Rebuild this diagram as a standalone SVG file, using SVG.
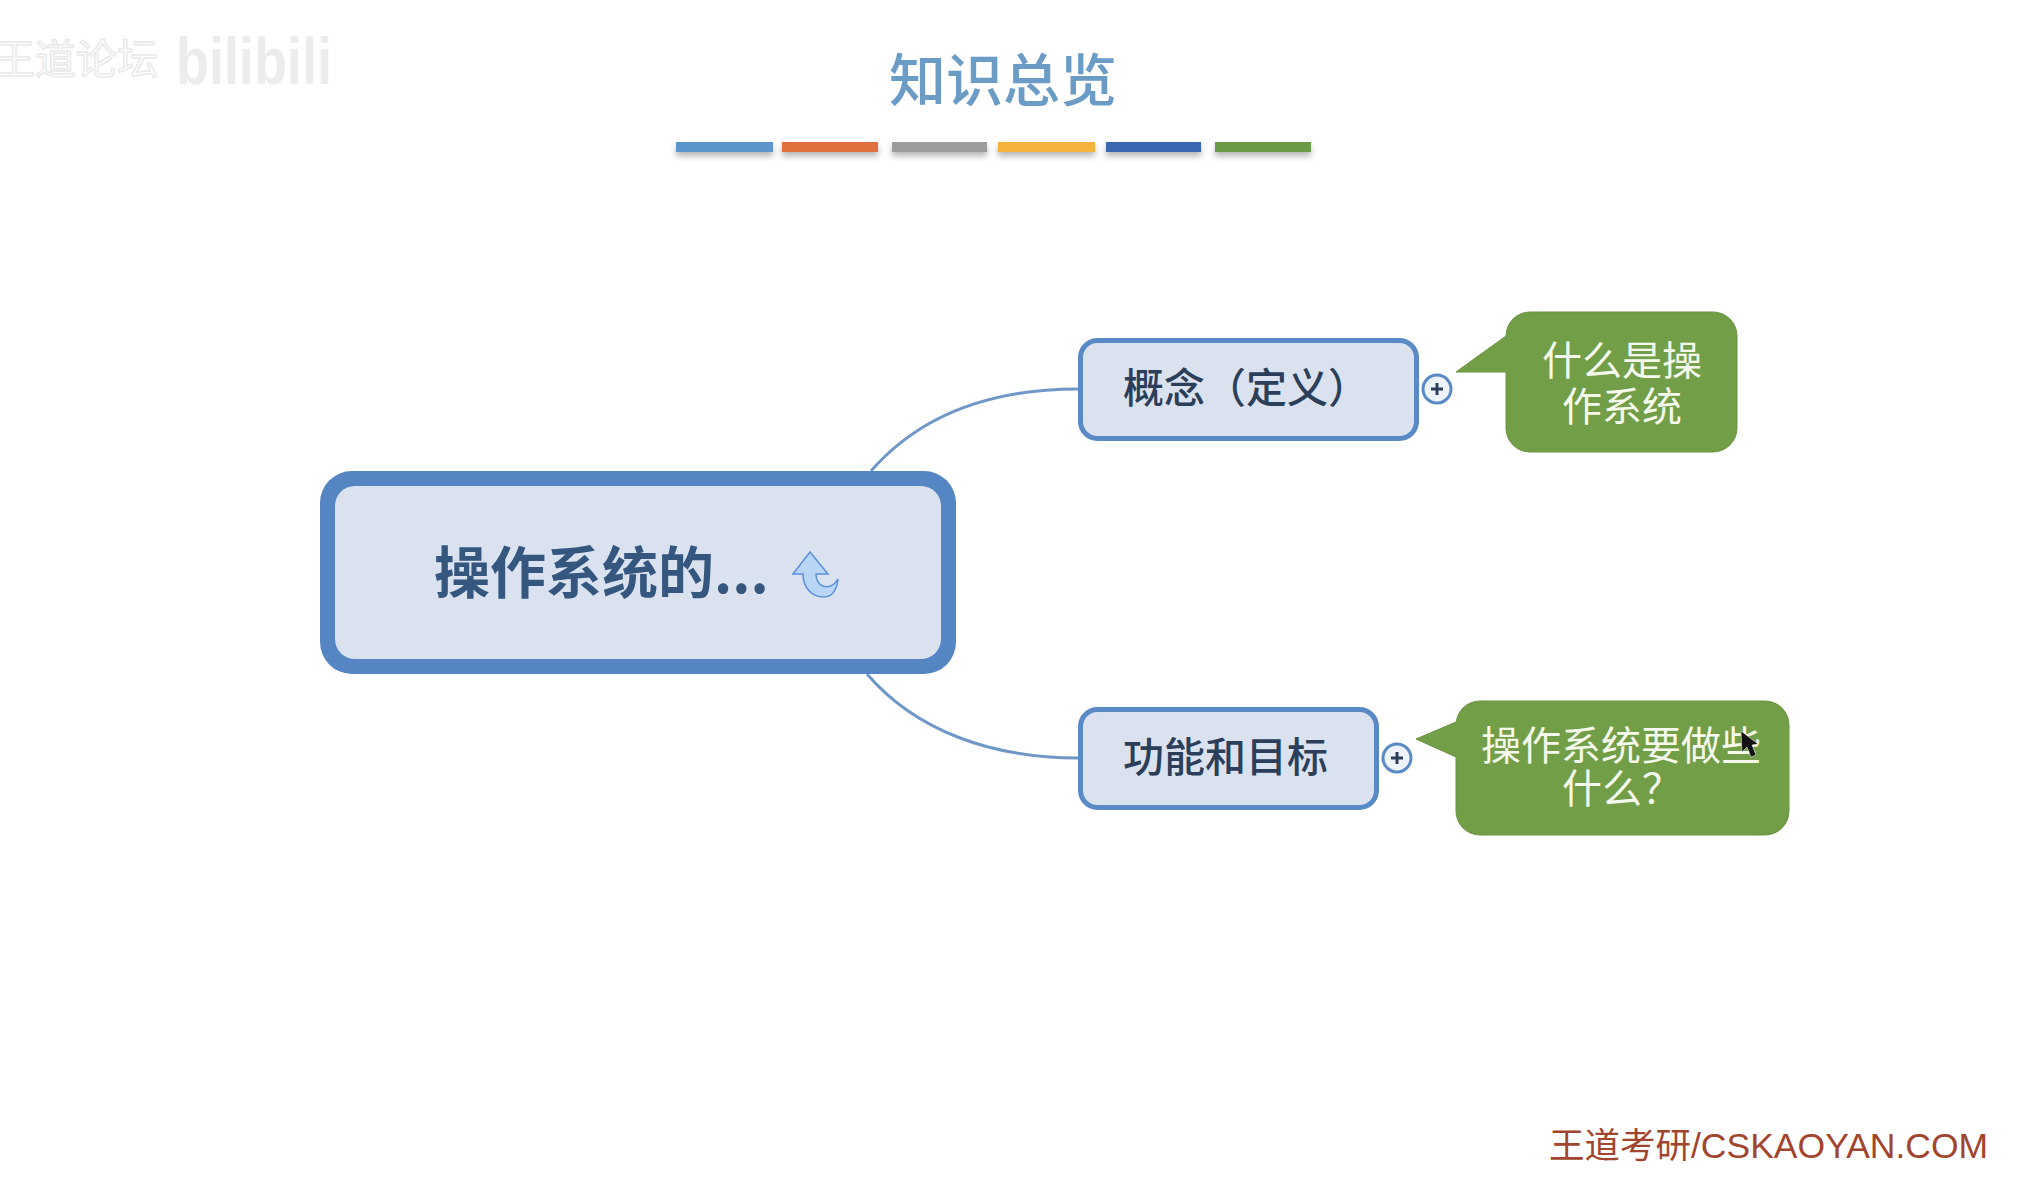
<svg xmlns="http://www.w3.org/2000/svg" width="2039" height="1177" viewBox="0 0 2039 1177">
<defs>
<filter id="barShadow" x="-10%" y="-60%" width="120%" height="260%"><feDropShadow dx="0" dy="4" stdDeviation="3" flood-color="#000" flood-opacity="0.3"/></filter>
</defs>
<style>
text{font-family:"Noto Sans CJK SC","Liberation Sans",sans-serif}
.t{text-anchor:middle}
.n{font-size:41px;fill:#2c3f5a;font-weight:500}
.c{font-size:40px;fill:#f4f9ec;text-anchor:middle}
.box{fill:#dae2ef;stroke:#5a8ac6;stroke-width:5}
.call{fill:#729e47;stroke:#6a9340;stroke-width:1}
.link{fill:none;stroke:#6f97c8;stroke-width:3}
.plus circle{fill:#eef3fa;stroke:#5a8ac6;stroke-width:3}
.plus path{stroke:#2c3f5a;stroke-width:3;fill:none}
</style>
<rect width="2039" height="1177" fill="#fff"/>

<g id="watermark">
<text x="-6" y="74" font-size="41" fill="#fff" stroke="#e9e9e9" stroke-width="1.500">王道论坛</text>
<text x="176" y="84" font-size="66" font-weight="700" fill="#ececec" textLength="156" lengthAdjust="spacingAndGlyphs" style="font-family:'Liberation Sans',sans-serif">bilibili</text>
</g>

<g id="title">
<text class="t" x="1003" y="101" font-size="57" font-weight="500" fill="#6b9cc6">知识总览</text>
<g filter="url(#barShadow)">
<rect x="676" y="142" width="97" height="10" fill="#5b94cc"/>
<rect x="782" y="142" width="96" height="10" fill="#e0703c"/>
<rect x="892" y="142" width="95" height="10" fill="#9c9c9c"/>
<rect x="998" y="142" width="97" height="10" fill="#f3b33e"/>
<rect x="1106" y="142" width="95" height="10" fill="#3a66b0"/>
<rect x="1215" y="142" width="96" height="10" fill="#6a9a45"/>
</g>
</g>

<g id="connectors">
<path class="link" d="M871 471C920 415 990 389 1078 389"/>
<path class="link" d="M867 674C915 730 990 758 1078 758"/>
</g>

<g id="root">
<rect x="320" y="471" width="636" height="203" rx="32" fill="#5585c2"/>
<rect x="335" y="486" width="606" height="173" rx="20" fill="#dae2ef"/>
<text x="434" y="593" font-size="56" font-weight="700" fill="#34567f">操作系统的...</text>
<path d="M810 552L793 574H803C803 588 812 597 824 597C832 597 837 590 838 579C834 586 828 588 823 586C818 584 816 580 816 574H828Z" fill="#b9d6f6" stroke="#5a8fdc" stroke-width="1.500"/>
</g>

<g id="node-concept">
<rect class="box" x="1080.500" y="340.500" width="336" height="98" rx="17"/>
<text class="n" x="1123" y="403">概念（定义）</text>
<g class="plus"><circle cx="1437" cy="389" r="14"/><path d="M1431 389H1443M1437 383V395"/></g>
</g>

<g id="node-function">
<rect class="box" x="1080.500" y="709.500" width="296" height="98" rx="17"/>
<text class="n" x="1123" y="772">功能和目标</text>
<g class="plus"><circle cx="1397" cy="758" r="14"/><path d="M1391 758H1403M1397 752V764"/></g>
</g>

<g id="note-concept">
<path class="call" d="M1530 312H1713A24 24 0 0 1 1737 336V428A24 24 0 0 1 1713 452H1530A24 24 0 0 1 1506 428V372H1456L1506 336A24 24 0 0 1 1530 312Z"/>
<text class="c"><tspan x="1622" y="375">什么是操</tspan><tspan x="1622" y="421">作系统</tspan></text>
</g>

<g id="note-function">
<path class="call" d="M1480 701H1765A24 24 0 0 1 1789 725V811A24 24 0 0 1 1765 835H1480A24 24 0 0 1 1456 811V757L1416 739L1456 722V725A24 24 0 0 1 1480 701Z"/>
<text class="c"><tspan x="1621" y="760">操作系统要做些</tspan><tspan x="1622" y="803">什么？</tspan></text>
<path d="M1741 731L1742 752L1747 747L1751 757L1756 755L1752 745L1758 744Z" fill="#111" stroke="#fff" stroke-width="0.500"/>
</g>

<g id="footer">
<text x="1549" y="1158" font-size="35.500" fill="#a2452f" style="font-family:'Liberation Sans','Noto Sans CJK SC',sans-serif">王道考研/CSKAOYAN.COM</text>
</g>
</svg>
